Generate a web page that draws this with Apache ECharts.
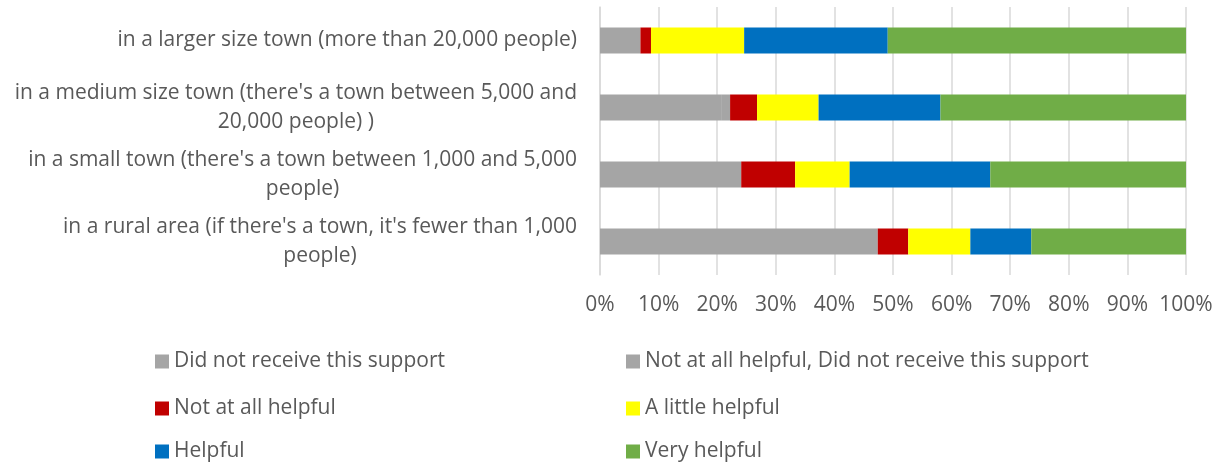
<!DOCTYPE html>
<html>
<head>
<meta charset="utf-8">
<script src="https://cdn.jsdelivr.net/npm/echarts@6/dist/echarts.min.js"></script>
<style>
  html, body { margin: 0; padding: 0; background: #ffffff; }
  #chart { width: 1217px; height: 462px; }
</style>
</head>
<body>
<div id="chart"></div>
<script>
// Town size categories (top to bottom); "\n" marks where each label wraps
const categories = [
  "in a larger size town (more than 20,000 people)",
  "in a medium size town (there's a town between 5,000 and\n20,000 people) )",
  "in a small town (there's a town between 1,000 and 5,000\npeople)",
  "in a rural area (if there's a town, it's fewer than 1,000\npeople)"
];

// Share of respondents (%) per response, one value per category
const didNotReceive     = [6.9, 20.8, 24.1, 47.4];
const notHelpfulOrNone  = [0, 1.4, 0, 0];
const notAtAllHelpful   = [1.8, 4.6, 9.2, 5.2];
const aLittleHelpful    = [15.9, 10.5, 9.3, 10.6];
const helpful           = [24.5, 20.8, 24.0, 10.4];
const veryHelpful       = [50.9, 41.9, 33.4, 26.4];

const seriesNames = [
  "Did not receive this support",
  "Not at all helpful, Did not receive this support",
  "Not at all helpful",
  "A little helpful",
  "Helpful",
  "Very helpful"
];
const seriesValues = [didNotReceive, notHelpfulOrNone, notAtAllHelpful, aLittleHelpful, helpful, veryHelpful];
const seriesColors = ["#a5a5a5", "#a5a5a5", "#c00000", "#ffff00", "#0070c0", "#70ad47"];

const xTicks = [0, 10, 20, 30, 40, 50, 60, 70, 80, 90, 100];

const FONT = "Open Sans";
const TEXT_COLOR = "#595959";
const FONT_SIZE = 21;
const TICK_FONT_SIZE = 21;

// Legend laid out in two columns and three rows
const legendPos = [
  { left: 155, top: 351 },
  { left: 626, top: 351 },
  { left: 155, top: 398 },
  { left: 626, top: 398 },
  { left: 155, top: 441 },
  { left: 626, top: 441 }
];

const chart = echarts.init(document.getElementById("chart"), null, { renderer: "canvas" });

chart.setOption({
  backgroundColor: "#ffffff",
  animation: false,
  textStyle: { fontFamily: FONT },
  grid: { left: 600, right: 31, top: 7, bottom: 187, containLabel: false },
  xAxis: {
    type: "value",
    min: xTicks[0],
    max: xTicks[xTicks.length - 1],
    interval: 10,
    axisLine: { show: false },
    axisTick: { show: false },
    splitLine: { show: true, lineStyle: { color: "#d9d9d9", width: 1.5 } },
    axisLabel: {
      formatter: v => v + "%",
      color: TEXT_COLOR,
      fontSize: TICK_FONT_SIZE,
      fontFamily: FONT,
      margin: 20
    }
  },
  yAxis: {
    type: "category",
    data: categories,
    inverse: true,
    axisLine: { show: true, lineStyle: { color: "#d9d9d9", width: 1.5 } },
    axisTick: { show: false },
    axisLabel: {
      margin: 23,
      formatter: v => v.split("\n").map(s => "{c|" + s + "}").join("\n"),
      rich: {
        c: {
          align: "center",
          color: TEXT_COLOR,
          fontSize: FONT_SIZE,
          fontFamily: FONT,
          lineHeight: 29
        }
      }
    }
  },
  legend: seriesNames.map((name, i) => ({
    data: [name],
    left: legendPos[i].left,
    top: legendPos[i].top,
    padding: 0,
    itemWidth: 14,
    itemHeight: 14,
    itemGap: 6,
    icon: "rect",
    selectedMode: false,
    textStyle: { color: TEXT_COLOR, fontSize: FONT_SIZE, fontFamily: FONT, lineHeight: 14, padding: [0, 0, 0, 0] }
  })),
  series: seriesNames.map((name, i) => ({
    name: name,
    type: "bar",
    stack: "total",
    barWidth: 26,
    itemStyle: { color: seriesColors[i] },
    emphasis: { disabled: true },
    data: seriesValues[i]
  }))
});
</script>
</body>
</html>
